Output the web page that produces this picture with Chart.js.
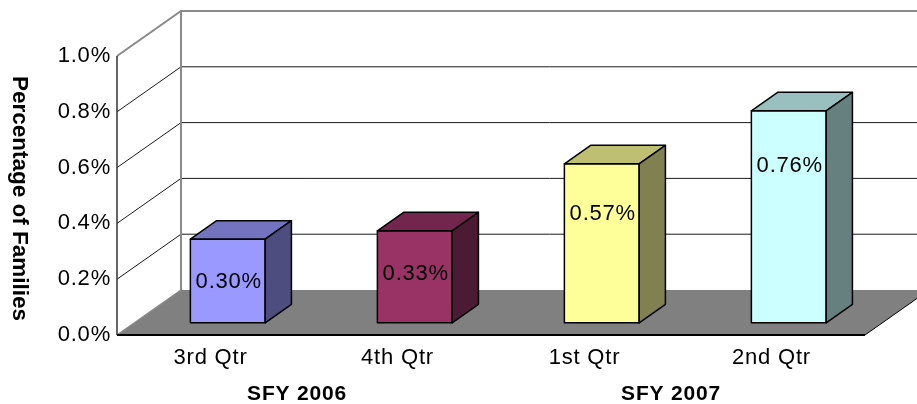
<!DOCTYPE html>
<html><head><meta charset="utf-8">
<script src="https://cdn.jsdelivr.net/npm/chart.js@4"></script>
<style>html,body{margin:0;padding:0;background:#fff}#wrap{width:917px;height:404px;position:relative}</style>
</head><body><div id="wrap"><canvas id="c"></canvas></div>
<script>
// ---- data ----
const categories = ['3rd Qtr', '4th Qtr', '1st Qtr', '2nd Qtr'];
const groups = ['SFY 2006', 'SFY 2007'];
const values = [0.30, 0.33, 0.57, 0.76];
const valueLabels = ['0.30%', '0.33%', '0.57%', '0.76%'];
const yTicks = [0.0, 0.2, 0.4, 0.6, 0.8, 1.0];
const yTitle = 'Percentage of Families';
// ---- styles ----
const frontColors = ['#9999FF', '#993366', '#FFFF99', '#CCFFFF'];
const topColors = ['#7373BF', '#73264D', '#BFBF73', '#99BFBF'];
const sideColors = ['#4D4D80', '#4D1A33', '#808050', '#668080'];
const DEPTH = { x: 64, y: -45 };
const BAR_FRONT = 0.27, BAR_BACK = 0.68;
const FONT = '"Liberation Sans", Arial, sans-serif';

Chart.defaults.font.family = FONT;
Chart.defaults.color = '#000';

const depthPlugin = {
  id: 'depth3d',
  beforeDraw(chart) {
    chart.ctx.letterSpacing = '0.8px';
  },
  beforeDatasetsDraw(chart) {
    const ctx = chart.ctx, a = chart.chartArea, ys = chart.scales.y;
    const L = a.left, R = a.right;
    const B = ys.getPixelForValue(yTicks[0]);
    const T = ys.getPixelForValue(yTicks[yTicks.length - 1]);
    const dx = DEPTH.x, dy = DEPTH.y;
    ctx.save();
    // floor
    ctx.fillStyle = '#808080';
    ctx.beginPath();
    ctx.moveTo(L, B); ctx.lineTo(R, B); ctx.lineTo(R + dx, B + dy); ctx.lineTo(L + dx, B + dy);
    ctx.closePath(); ctx.fill();
    ctx.strokeStyle = '#000'; ctx.lineWidth = 1;
    ctx.beginPath(); ctx.moveTo(R, B); ctx.lineTo(R + dx, B + dy); ctx.stroke();
    // grid on side + back walls
    yTicks.forEach((v, i) => {
      if (i === 0) return;
      const y = ys.getPixelForValue(v);
      const last = i === yTicks.length - 1;
      ctx.strokeStyle = last ? '#8a8a8a' : '#1a1a1a';
      ctx.lineWidth = last ? 2 : 1;
      ctx.beginPath();
      ctx.moveTo(L, y); ctx.lineTo(L + dx, y + dy); ctx.lineTo(R + dx, y + dy);
      ctx.stroke();
    });
    // back wall left edge
    ctx.strokeStyle = '#8a8a8a'; ctx.lineWidth = 2;
    ctx.beginPath(); ctx.moveTo(L + dx, T + dy); ctx.lineTo(L + dx, B + dy); ctx.stroke();
    // floor left diagonal
    ctx.strokeStyle = '#8a8a8a'; ctx.lineWidth = 1.5;
    ctx.beginPath(); ctx.moveTo(L, B); ctx.lineTo(L + dx, B + dy); ctx.stroke();
    // front value axis
    ctx.strokeStyle = '#333'; ctx.lineWidth = 1.5;
    ctx.beginPath(); ctx.moveTo(L, T); ctx.lineTo(L, B); ctx.stroke();
    // floor front edge
    ctx.strokeStyle = '#000'; ctx.lineWidth = 2;
    ctx.beginPath(); ctx.moveTo(L, B); ctx.lineTo(R, B); ctx.stroke();
    // value axis title (reads top to bottom)
    ctx.translate(19, (T + B) / 2 + 3);
    ctx.rotate(Math.PI / 2);
    ctx.letterSpacing = '0px';
    ctx.font = 'bold 22.5px ' + FONT;
    ctx.fillStyle = '#000';
    ctx.textAlign = 'center'; ctx.textBaseline = 'middle';
    ctx.fillText(yTitle, 0, 0);
    ctx.restore();
    // bars are drawn in a plane pushed into the depth
    ctx.save();
    ctx.translate(BAR_FRONT * dx, BAR_FRONT * dy);
  },
  afterDatasetsDraw(chart) {
    const ctx = chart.ctx;
    const meta = chart.getDatasetMeta(0);
    const ddx = (BAR_BACK - BAR_FRONT) * DEPTH.x, ddy = (BAR_BACK - BAR_FRONT) * DEPTH.y;
    ctx.lineWidth = 1.5; ctx.strokeStyle = '#000'; ctx.lineJoin = 'round';
    meta.data.forEach((bar, i) => {
      const p = bar.getProps(['x', 'y', 'base', 'width'], true);
      const l = p.x - p.width / 2, r = p.x + p.width / 2, t = p.y, b = p.base;
      // top face
      ctx.fillStyle = topColors[i];
      ctx.beginPath();
      ctx.moveTo(l, t); ctx.lineTo(r, t); ctx.lineTo(r + ddx, t + ddy); ctx.lineTo(l + ddx, t + ddy);
      ctx.closePath(); ctx.fill(); ctx.stroke();
      // side face
      ctx.fillStyle = sideColors[i];
      ctx.beginPath();
      ctx.moveTo(r, t); ctx.lineTo(r + ddx, t + ddy); ctx.lineTo(r + ddx, b + ddy); ctx.lineTo(r, b);
      ctx.closePath(); ctx.fill(); ctx.stroke();
      // front outline
      ctx.strokeRect(l, t, r - l, b - t);
      // value label
      const h = b - t;
      ctx.fillStyle = '#000';
      ctx.font = '22px ' + FONT;
      ctx.textAlign = 'center'; ctx.textBaseline = 'middle';
      ctx.fillText(valueLabels[i], p.x + 1, t + 34 + 0.1 * h);
    });
    ctx.restore();
  }
};

new Chart(document.getElementById('c'), {
  type: 'bar',
  data: {
    labels: categories,
    datasets: [{
      data: values,
      backgroundColor: frontColors,
      borderWidth: 0,
      barPercentage: 0.4,
      categoryPercentage: 1.0
    }]
  },
  options: {
    responsive: true,
    maintainAspectRatio: false,
    animation: false,
    events: [],
    layout: { padding: { top: 56, right: 52, left: 0, bottom: 0 } },
    plugins: { legend: { display: false }, tooltip: { enabled: false } },
    scales: {
      x: {
        type: 'category', position: 'bottom', offset: true,
        grid: { display: false, drawTicks: false }, border: { display: false },
        ticks: { padding: 10, font: { size: 22 }, maxRotation: 0, autoSkip: false },
        afterFit(s) { s.height = 38; }
      },
      x2: {
        type: 'category', position: 'bottom', offset: true, labels: groups,
        grid: { display: false, drawTicks: false }, border: { display: false },
        ticks: { padding: 9, font: { size: 21, weight: 'bold' }, labelOffset: -7, maxRotation: 0 },
        afterFit(s) { s.height = 31; }
      },
      y: {
        min: yTicks[0], max: yTicks[yTicks.length - 1],
        afterBuildTicks(s) { s.ticks = yTicks.map(v => ({ value: v })); },
        grid: { display: false, drawTicks: false }, border: { display: false },
        ticks: { padding: 6, font: { size: 22 }, callback: v => v.toFixed(1) + '%' },
        title: { display: false },
        afterFit(s) { s.width = 117; }
      }
    }
  },
  plugins: [depthPlugin]
});
</script>
</body></html>
